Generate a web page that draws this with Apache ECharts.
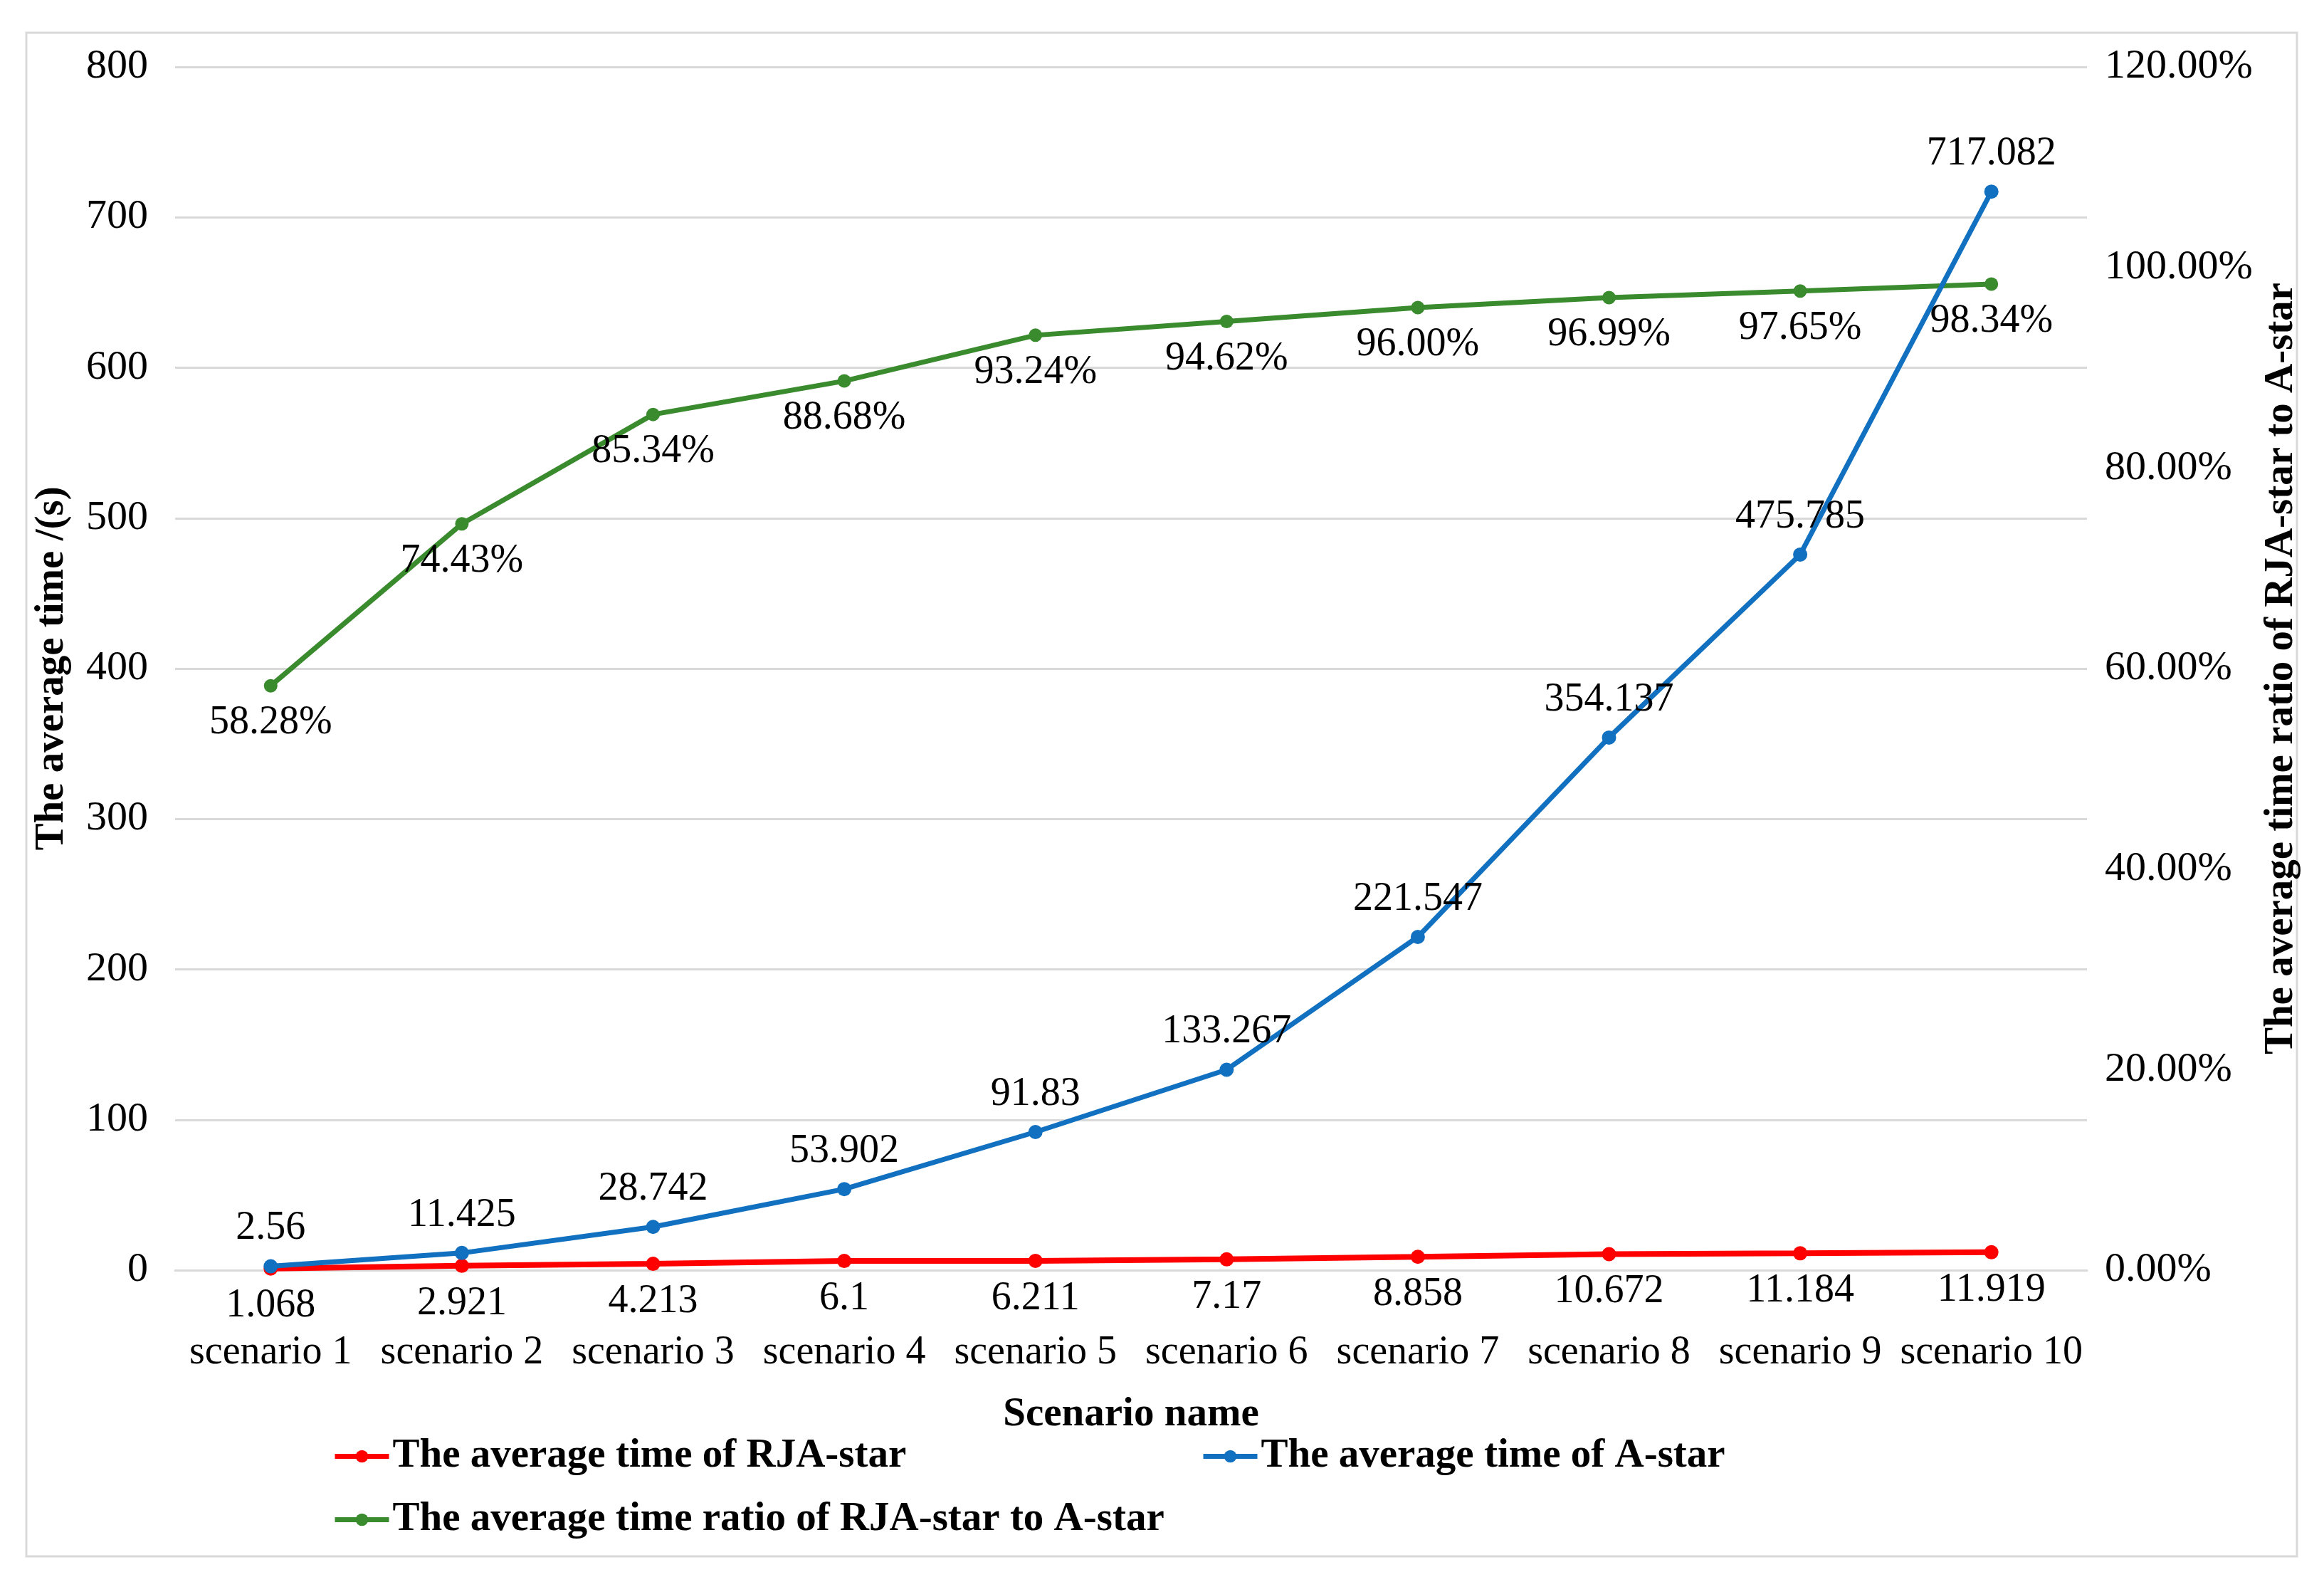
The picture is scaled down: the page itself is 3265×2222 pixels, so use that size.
<!DOCTYPE html>
<html><head><meta charset="utf-8">
<script src="https://cdn.jsdelivr.net/npm/echarts@6/dist/echarts.min.js"></script>
<style>html,body{margin:0;padding:0;background:#fff}#c{width:3265px;height:2222px}</style>
</head><body><div id="c"></div>
<script>
const categories = ['scenario 1','scenario 2','scenario 3','scenario 4','scenario 5','scenario 6','scenario 7','scenario 8','scenario 9','scenario 10'];
const rjaTime = [1.068, 2.921, 4.213, 6.1, 6.211, 7.17, 8.858, 10.672, 11.184, 11.919];
const aTime = [2.56, 11.425, 28.742, 53.902, 91.83, 133.267, 221.547, 354.137, 475.785, 717.082];
const ratio = [58.28, 74.43, 85.34, 88.68, 93.24, 94.62, 96.00, 96.99, 97.65, 98.34];
const nameRJA = 'The average time of RJA-star';
const nameA = 'The average time of A-star';
const nameRatio = 'The average time ratio of RJA-star to A-star';

const FONT = '"Liberation Serif", "Times New Roman", serif';
const chart = echarts.init(document.getElementById('c'));
const lblStyle = {fontFamily: FONT, fontSize: 56, color: '#000'};
const legendText = {fontFamily: FONT, fontSize: 57, fontWeight: 'bold', color: '#000'};
const legendBase = {itemWidth: 76, itemHeight: 22, textStyle: legendText, lineStyle: {width: 7}};

chart.setOption({
  backgroundColor: '#fff',
  animation: false,
  graphic: [{
    type: 'rect', shape: {x: 37, y: 46, width: 3190, height: 2140},
    style: {fill: 'none', stroke: '#D9D9D9', lineWidth: 3}, z: -10
  }],
  grid: {left: 246, right: 333, top: 94, bottom: 438},
  legend: [
    Object.assign({data: [nameRJA], left: 462, top: 2012}, legendBase),
    Object.assign({data: [nameA], left: 1682, top: 2012}, legendBase),
    Object.assign({data: [nameRatio], left: 462, top: 2101}, legendBase)
  ],
  xAxis: {
    type: 'category', data: categories, boundaryGap: true,
    name: 'Scenario name', nameLocation: 'middle', nameGap: 175,
    nameTextStyle: {fontFamily: FONT, fontSize: 57, fontWeight: 'bold', color: '#000'},
    axisLine: {lineStyle: {color: '#D9D9D9', width: 3}},
    axisTick: {show: false},
    axisLabel: Object.assign({margin: 88, interval: 0, hideOverlap: false}, lblStyle)
  },
  yAxis: [{
    type: 'value', min: 0, max: 800, interval: 100,
    name: 'The average time /(s)', nameLocation: 'middle', nameGap: 144,
    nameTextStyle: {fontFamily: FONT, fontSize: 57, fontWeight: 'bold', color: '#000'},
    axisLine: {show: false}, axisTick: {show: false},
    axisLabel: Object.assign({margin: 38}, lblStyle, {fontSize: 58}),
    splitLine: {lineStyle: {color: '#D9D9D9', width: 3}}
  }, {
    type: 'value', min: 0, max: 120, interval: 20, position: 'right',
    name: nameRatio, nameLocation: 'middle', nameGap: 245, nameRotate: 90,
    nameTextStyle: {fontFamily: FONT, fontSize: 57, fontWeight: 'bold', color: '#000'},
    axisLine: {show: false}, axisTick: {show: false},
    axisLabel: Object.assign({margin: 25, formatter: v => v.toFixed(2) + '%'}, lblStyle, {fontSize: 58}),
    splitLine: {show: false}
  }],
  series: [{
    name: nameRJA, type: 'line', data: rjaTime, yAxisIndex: 0,
    color: '#FF0000', symbol: 'circle', symbolSize: 20,
    lineStyle: {width: 8, color: '#FF0000'}, itemStyle: {color: '#FF0000'},
    label: Object.assign({show: true, position: 'bottom', distance: 15}, lblStyle), z: 3
  }, {
    name: nameA, type: 'line', data: aTime, yAxisIndex: 0,
    color: '#1270C0', symbol: 'circle', symbolSize: 20,
    lineStyle: {width: 7, color: '#1270C0'}, itemStyle: {color: '#1270C0'},
    label: Object.assign({show: true, position: 'top', distance: 15}, lblStyle), z: 4
  }, {
    name: nameRatio, type: 'line', data: ratio, yAxisIndex: 1,
    color: '#3A8A2E', symbol: 'circle', symbolSize: 19,
    lineStyle: {width: 7, color: '#3A8A2E'}, itemStyle: {color: '#3A8A2E'},
    label: Object.assign({show: true, position: 'bottom', distance: 15, formatter: p => p.value.toFixed(2) + '%'}, lblStyle), z: 2
  }]
});
</script></body></html>
